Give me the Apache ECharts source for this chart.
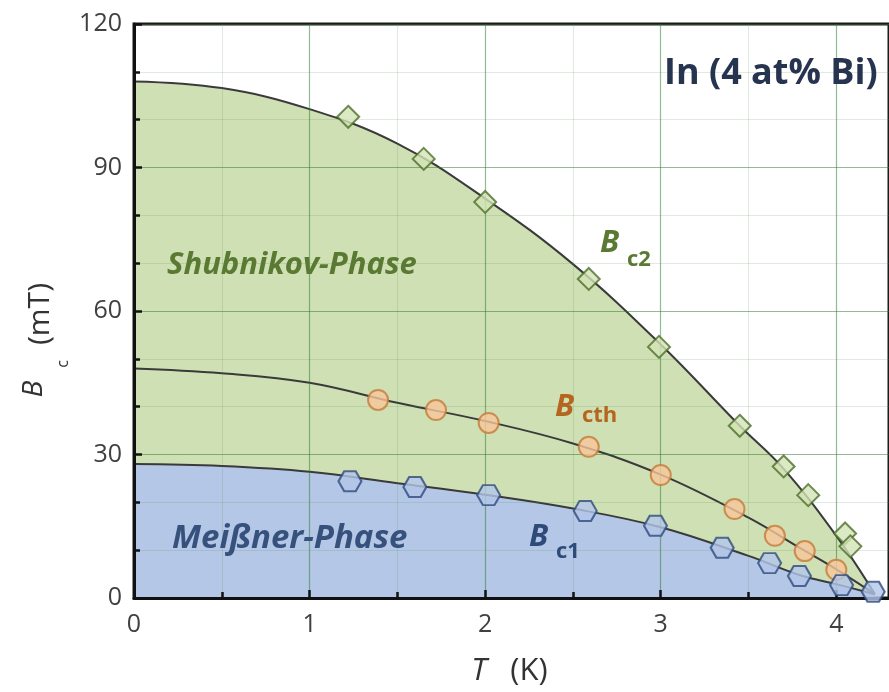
<!DOCTYPE html>
<html><head><meta charset="utf-8">
<script src="https://cdn.jsdelivr.net/npm/echarts@6/dist/echarts.min.js"></script>
<style>html,body{margin:0;padding:0;background:#fff}#c{width:889px;height:692px}</style>
</head><body><div id="c"></div>
<script>
// ---- data ----
const xTicks = [0, 1, 2, 3, 4];
const yTicks = [0, 30, 60, 90, 120];

// fitted curves
const bc2FitT  = [0, 0.5, 1, 1.5, 2, 2.5, 3, 3.45, 3.7, 4.0, 4.22];
const bc2FitB  = [108, 106.6, 102.2, 95, 83.5, 69.8, 53, 36, 27, 13, 0.8];
const bcthFitT = [0, 0.5, 1, 1.5, 2, 2.5, 3, 3.5, 3.8, 4.0, 4.22];
const bcthFitB = [48, 47, 45, 40.8, 37, 32.3, 25.8, 16.8, 10.3, 6, 0.8];
const bc1FitT  = [0, 0.5, 1, 1.5, 2, 2.5, 3, 3.5, 3.8, 4.0, 4.22];
const bc1FitB  = [28, 27.6, 26.4, 24, 21.6, 18.7, 14.8, 8.8, 4.7, 2.9, 0.8];

// measured points
const bc2T  = [1.22, 1.65, 2.0, 2.59, 2.99, 3.45, 3.70, 3.84, 4.05, 4.08];
const bc2B  = [100.6, 91.8, 82.8, 66.7, 52.5, 36.0, 27.5, 21.5, 13.5, 10.8];
const bcthT = [1.39, 1.72, 2.02, 2.59, 3.0, 3.42, 3.65, 3.82, 4.0];
const bcthB = [41.4, 39.3, 36.6, 31.6, 25.7, 18.6, 13.0, 9.8, 5.9];
const bc1T  = [1.23, 1.6, 2.02, 2.57, 2.97, 3.35, 3.62, 3.79, 4.03, 4.21];
const bc1B  = [24.4, 23.2, 21.5, 18.2, 15.1, 10.5, 7.3, 4.6, 2.7, 1.3];

const zip = (a, b) => a.map((v, i) => [v, b[i]]);

const FONT = '"Open Sans", "Noto Sans", sans-serif';
const hexagon = 'path://M25,0 L75,0 L100,43.3 L75,86.6 L25,86.6 L0,43.3 Z';

const chart = echarts.init(document.getElementById('c'), null, {renderer: 'canvas'});
chart.setOption({
  animation: false,
  backgroundColor: '#ffffff',
  grid: {left: 134, top: 24, width: 757, height: 574, show: true,
         borderColor: '#1a1a1a', borderWidth: 3, backgroundColor: 'transparent'},
  xAxis: {
    type: 'value', min: 0, max: 4.3, interval: 1, z: 3,
    axisLine: {lineStyle: {color: '#111', width: 3}},
    axisTick: {inside: true, length: 8, lineStyle: {color: '#111', width: 2.5}},
    minorTick: {show: true, splitNumber: 2, length: 6, lineStyle: {color: '#111', width: 2.5}},
    splitLine: {show: true, lineStyle: {color: 'rgba(40,120,40,0.5)', width: 1.2}},
    minorSplitLine: {show: true, lineStyle: {color: 'rgba(90,140,90,0.18)', width: 1}},
    axisLabel: {showMaxLabel: false, fontFamily: FONT, fontSize: 25, color: '#404040', margin: 14,
      formatter: v => (xTicks.indexOf(v) >= 0 ? String(v) : '')}
  },
  yAxis: {
    type: 'value', min: 0, max: 120, interval: 30, z: 3,
    axisLine: {lineStyle: {color: '#111', width: 3}},
    axisTick: {inside: true, length: 8, lineStyle: {color: '#111', width: 2.5}},
    minorTick: {show: true, splitNumber: 3, length: 6, lineStyle: {color: '#111', width: 2.5}},
    splitLine: {show: true, lineStyle: {color: 'rgba(40,120,40,0.5)', width: 1.2}},
    minorSplitLine: {show: true, lineStyle: {color: 'rgba(90,140,90,0.18)', width: 1}},
    axisLabel: {fontFamily: FONT, fontSize: 25, color: '#404040', margin: 12,
      formatter: v => (yTicks.indexOf(v) >= 0 ? String(v) : '')}
  },
  series: [
    {type: 'line', name: 'Bc2 fit', data: zip(bc2FitT, bc2FitB), smooth: 0.4,
     showSymbol: false, z: 1, lineStyle: {color: '#3a3a3a', width: 2},
     areaStyle: {color: '#cfe0b4', opacity: 1}},
    {type: 'line', name: 'Bc1 fit', data: zip(bc1FitT, bc1FitB), smooth: 0.4,
     showSymbol: false, z: 2, lineStyle: {color: '#3a3a3a', width: 2},
     areaStyle: {color: '#b4c7e6', opacity: 1}},
    {type: 'line', name: 'Bcth fit', data: zip(bcthFitT, bcthFitB), smooth: 0.4,
     showSymbol: false, z: 2, lineStyle: {color: '#3a3a3a', width: 2}},
    {type: 'scatter', name: 'Bc2', data: zip(bc2T, bc2B), symbol: 'diamond', symbolSize: 22, z: 6,
     itemStyle: {color: '#d2e3b7', borderColor: '#4e6e2a', borderWidth: 2}},
    {type: 'scatter', name: 'Bcth', data: zip(bcthT, bcthB), symbol: 'circle', symbolSize: 20, z: 6,
     itemStyle: {color: '#f9c69b', borderColor: '#c47a3a', borderWidth: 2}},
    {type: 'scatter', name: 'Bc1', data: zip(bc1T, bc1B), symbol: hexagon, symbolSize: [23, 20], z: 6,
     itemStyle: {color: '#b3c6e8', borderColor: '#2f4b7d', borderWidth: 2}}
  ],
  graphic: [
    {type: 'text', left: 167, top: 250, z: 10, style: {text: 'Shubnikov-Phase', fill: '#5a7a33',
      font: 'italic bold 31px ' + FONT}},
    {type: 'text', left: 172, top: 522, z: 10, style: {text: 'Meißner-Phase', fill: '#36527c',
      font: 'italic bold 33px ' + FONT}},
    {type: 'text', left: 664, top: 56, z: 10, style: {text: 'In (4 at% Bi)', fill: '#27344f',
      font: 'bold 36px ' + FONT}},
    // B_c2
    {type: 'text', left: 600, top: 228, z: 10, style: {text: 'B', fill: '#5a7a33', font: 'italic bold 31px ' + FONT}},
    {type: 'text', left: 627, top: 249, z: 10, style: {text: 'c2', fill: '#5a7a33', font: 'bold 22px ' + FONT}},
    // B_cth
    {type: 'text', left: 555, top: 392, z: 10, style: {text: 'B', fill: '#b5651d', font: 'italic bold 31px ' + FONT}},
    {type: 'text', left: 582, top: 405, z: 10, style: {text: 'cth', fill: '#b5651d', font: 'bold 22px ' + FONT}},
    // B_c1
    {type: 'text', left: 529, top: 522, z: 10, style: {text: 'B', fill: '#2e4a78', font: 'italic bold 31px ' + FONT}},
    {type: 'text', left: 556, top: 541, z: 10, style: {text: 'c1', fill: '#2e4a78', font: 'bold 22px ' + FONT}},
    // y-axis title
    {type: 'text', x: 34, y: 389, rotation: Math.PI / 2, z: 10,
     style: {text: 'B', fill: '#333', font: 'italic 28px ' + FONT, align: 'center', verticalAlign: 'middle'}},
    {type: 'text', x: 63, y: 364, rotation: Math.PI / 2, z: 10,
     style: {text: 'c', fill: '#333', font: '16px ' + FONT, align: 'center', verticalAlign: 'middle'}},
    {type: 'text', x: 40, y: 314, rotation: Math.PI / 2, z: 10,
     style: {text: '(mT)', fill: '#333', font: '30px ' + FONT, align: 'center', verticalAlign: 'middle'}},
    // x-axis title
    {type: 'text', x: 479, y: 671, z: 10,
     style: {text: 'T', fill: '#333', font: 'italic 31px ' + FONT, align: 'center', verticalAlign: 'middle'}},
    {type: 'text', x: 529, y: 671, z: 10,
     style: {text: '(K)', fill: '#333', font: '31px ' + FONT, align: 'center', verticalAlign: 'middle'}}
  ]
});
</script>
</body></html>
